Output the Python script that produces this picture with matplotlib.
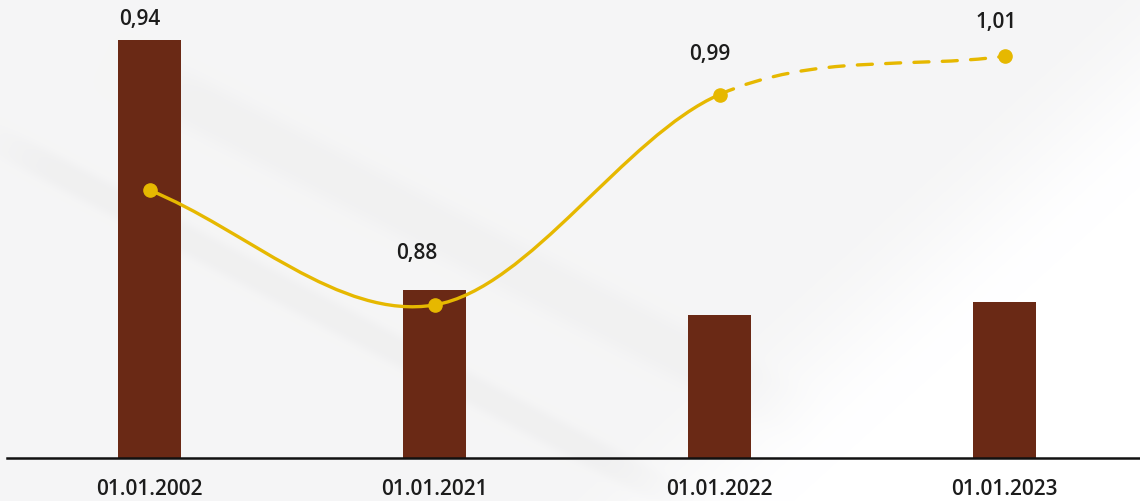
import matplotlib
matplotlib.use("Agg")
import numpy as np
import matplotlib.pyplot as plt
from matplotlib.path import Path
from matplotlib.patches import PathPatch

# chart data
dates = ["01.01.2002", "01.01.2021", "01.01.2022", "01.01.2023"]
bar_values = [41.8, 16.8, 14.3, 15.6]
rate_values = [0.94, 0.88, 0.99, 1.01]
rate_labels = ["0,94", "0,88", "0,99", "1,01"]

# layout / style
BAR_COLOR = "#6A2915"
LINE_COLOR = "#E6B800"
TEXT_COLOR = "#1C1C1C"
label_offsets = [(-10, 15), (-18, 31), (-10, 35), (-9, 28)]  # pixels from anchor

plt.rcParams['font.family'] = ['Open Sans', 'DejaVu Sans']

W, H = 1140, 501
fig = plt.figure(figsize=(W / 100, H / 100), dpi=100)
fig.patch.set_facecolor("white")

# soft grey backdrop: diagonal fade to white plus two faint bands
yy, xx = np.mgrid[0:H, 0:W].astype(float)


def smoothstep(t):
    t = np.clip(t, 0, 1)
    return t * t * (3 - 2 * t)


def signed_dist(p0, p1):
    dx, dy = p1[0] - p0[0], p1[1] - p0[1]
    L = np.hypot(dx, dy)
    along = ((xx - p0[0]) * dx + (yy - p0[1]) * dy) / L
    across = ((xx - p0[0]) * -dy + (yy - p0[1]) * dx) / L
    return along, across, L


_, side, _ = signed_dist((1140, 10), (600, 501))
grey = 245.5 + 9.5 * smoothstep((-side + 40) / 170)


def band(p0, p1, half, depth):
    along, across, L = signed_dist(p0, p1)
    prof = np.exp(-(across / half) ** 4)
    ends = smoothstep(along / 120) * smoothstep((L - along) / 160)
    return depth * prof * ends


grey -= band((100, 55), (830, 430), 26, 4.5)
grey -= band((-40, 120), (720, 520), 15, 5.5)
grey = np.clip(grey, 0, 255) / 255.0
bg = np.clip(np.dstack([grey, grey, grey + 0.002]), 0, 1)
fig.figimage(bg, xo=0, yo=0, origin="upper", zorder=-10)

ax1 = fig.add_axes([0, 1 - 458 / H, 1, 458 / H])
ax1.set_facecolor("none")
ax2 = ax1.twinx()
ax2.set_facecolor("none")

x = list(range(len(dates)))
ax1.bar(x, bar_values, width=0.221, color=BAR_COLOR, zorder=2)
ax1.set_xlim(-0.5246, 3.475)
ax1.set_ylim(0, 45.8)
ax2.set_ylim(0.80, 1.0394)


def bezier_segments(xs, ys):
    # cubic bezier pieces through the points (catmull-rom tangents)
    n = len(xs)
    tx, ty = [], []
    for i in range(n):
        a, b = max(i - 1, 0), min(i + 1, n - 1)
        tx.append((xs[b] - xs[a]) / (b - a))
        ty.append((ys[b] - ys[a]) / (b - a))
    segs = []
    for i in range(n - 1):
        segs.append([(xs[i], ys[i]),
                     (xs[i] + tx[i] / 3, ys[i] + ty[i] / 3),
                     (xs[i + 1] - tx[i + 1] / 3, ys[i + 1] - ty[i + 1] / 3),
                     (xs[i + 1], ys[i + 1])])
    return segs


segs = bezier_segments(x, rate_values)


def make_path(pieces):
    verts = [pieces[0][0]]
    codes = [Path.MOVETO]
    for p in pieces:
        verts += p[1:]
        codes += [Path.CURVE4] * 3
    return Path(verts, codes)


ax2.add_patch(PathPatch(make_path(segs[:2]), fill=False, edgecolor=LINE_COLOR,
                        linewidth=2.4, zorder=3, capstyle="round"))
ax2.add_patch(PathPatch(make_path(segs[2:]), fill=False, edgecolor=LINE_COLOR,
                        linewidth=2.4, linestyle=(0, (4.5, 4.0)), zorder=3,
                        capstyle="round"))
ax2.plot(x, rate_values, linestyle="none", marker="o", markersize=9.5,
         color=LINE_COLOR, zorder=4)

# value labels sit above whichever mark is higher
for i, lbl in enumerate(rate_labels):
    bx, by = ax1.transData.transform((x[i], bar_values[i]))
    px_, py_ = ax2.transData.transform((x[i], rate_values[i]))
    dx, dy = label_offsets[i]
    ax2.annotate(lbl, xy=(bx, max(by, py_)), xycoords="figure pixels",
                 xytext=(dx, dy), textcoords="offset pixels",
                 ha="center", va="baseline", fontsize=15, fontweight="semibold",
                 color=TEXT_COLOR, zorder=5)

# x axis
ax1.axhline(0, xmin=7 / W, xmax=1, color="#111111", linewidth=1.8, zorder=3,
            clip_on=False)
ax1.set_xticks(x)
ax1.set_xticklabels(dates, fontsize=15, fontweight="semibold", color=TEXT_COLOR)
ax1.tick_params(axis="x", length=0, pad=15)
ax1.set_yticks([])
ax2.set_yticks([])
for ax in (ax1, ax2):
    for s in ax.spines.values():
        s.set_visible(False)

fig.savefig("out.png", dpi=100)
